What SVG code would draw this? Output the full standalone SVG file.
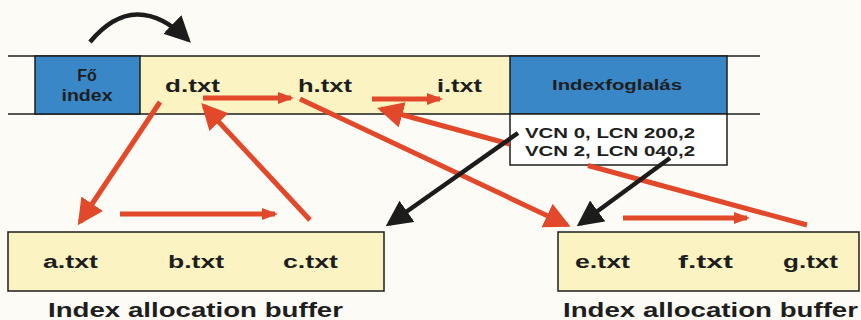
<svg xmlns="http://www.w3.org/2000/svg" width="861" height="320" viewBox="0 0 861 320">
<defs>
<style>
.t{font-family:"Liberation Sans",Arial,sans-serif;font-weight:bold;fill:#1e1e1e;}
.f{font-size:18px;}
.box{stroke:#1e1e1e;stroke-width:1.5;}
.red{stroke:#e2482a;stroke-width:5;fill:none;}
.blk{stroke:#1c1c1c;stroke-width:4.5;fill:none;}
</style>
<marker id="rb" markerUnits="userSpaceOnUse" markerWidth="30" markerHeight="30" refX="22" refY="13" orient="auto"><path d="M0,0 L26,13 L0,26 z" fill="#e2482a"/></marker>
<marker id="rs" markerUnits="userSpaceOnUse" markerWidth="20" markerHeight="16" refX="13" refY="6" orient="auto"><path d="M0,0 L16,6 L0,12 z" fill="#e2482a"/></marker>
<marker id="bb" markerUnits="userSpaceOnUse" markerWidth="30" markerHeight="30" refX="22" refY="13" orient="auto"><path d="M0,0 L26,13 L0,26 z" fill="#1c1c1c"/></marker>
</defs>
<rect width="861" height="320" fill="#fcfbf6"/>

<g id="band">
<rect x="140" y="56" width="370" height="58" fill="#fbf4c2"/>
<line x1="8" y1="56" x2="760" y2="56" class="box"/>
<line x1="8" y1="114" x2="760" y2="114" class="box"/>
</g>

<g id="fo-index">
<rect x="35" y="56" width="105" height="58" fill="#3a87c8" class="box"/>
<text class="t" x="87" y="81" font-size="16" text-anchor="middle">Fő</text>
<text class="t" x="87" y="101" font-size="16" text-anchor="middle" textLength="51" lengthAdjust="spacingAndGlyphs">index</text>
</g>

<g id="d"><text class="t f" x="165" y="92" textLength="55" lengthAdjust="spacingAndGlyphs">d.txt</text></g>
<g id="h"><text class="t f" x="298" y="92" textLength="54" lengthAdjust="spacingAndGlyphs">h.txt</text></g>
<g id="i"><text class="t f" x="437" y="92" textLength="45" lengthAdjust="spacingAndGlyphs">i.txt</text></g>

<g id="indexfoglalas">
<rect x="510" y="56" width="217" height="58" fill="#3a87c8" class="box"/>
<text class="t" x="552" y="90" font-size="14.5" textLength="130" lengthAdjust="spacingAndGlyphs">Indexfoglalás</text>
</g>

<g id="vcn">
<rect x="510" y="114" width="217" height="51" fill="#ffffff" class="box"/>
<text class="t" x="525" y="138" font-size="15" textLength="170" lengthAdjust="spacingAndGlyphs">VCN 0, LCN 200,2</text>
<text class="t" x="525" y="156" font-size="15" textLength="170" lengthAdjust="spacingAndGlyphs">VCN 2, LCN 040,2</text>
</g>

<g id="buffer1">
<rect x="8" y="232" width="376" height="59" fill="#fbf4c2" class="box"/>
<text class="t f" x="43" y="268" textLength="55" lengthAdjust="spacingAndGlyphs">a.txt</text>
<text class="t f" x="168" y="268" textLength="56" lengthAdjust="spacingAndGlyphs">b.txt</text>
<text class="t f" x="283" y="268" textLength="55" lengthAdjust="spacingAndGlyphs">c.txt</text>
<text class="t" x="48" y="317" font-size="21" textLength="295" lengthAdjust="spacingAndGlyphs">Index allocation buffer</text>
</g>

<g id="buffer2">
<rect x="558" y="232" width="301" height="59" fill="#fbf4c2" class="box"/>
<text class="t f" x="575" y="268" textLength="55" lengthAdjust="spacingAndGlyphs">e.txt</text>
<text class="t f" x="678" y="268" textLength="55" lengthAdjust="spacingAndGlyphs">f.txt</text>
<text class="t f" x="783" y="268" textLength="55" lengthAdjust="spacingAndGlyphs">g.txt</text>
<text class="t" x="563" y="317" font-size="21" textLength="295" lengthAdjust="spacingAndGlyphs">Index allocation buffer</text>
</g>

<g id="connectors">
<path class="blk" d="M90,42 Q135,-12 188,40" marker-end="url(#bb)"/>
<line class="red" x1="160" y1="102" x2="80" y2="222" marker-end="url(#rb)"/>
<line class="red" x1="120" y1="214" x2="275" y2="214" marker-end="url(#rs)"/>
<line class="red" x1="310" y1="220" x2="204" y2="106" marker-end="url(#rb)"/>
<line class="red" x1="203" y1="98" x2="291" y2="98" marker-end="url(#rs)"/>
<line class="red" x1="372" y1="99" x2="440" y2="99" marker-end="url(#rs)"/>
<line class="red" x1="300" y1="99" x2="567" y2="225" marker-end="url(#rb)"/>
<line class="red" x1="807" y1="225" x2="588" y2="165.5"/>
<line class="red" x1="509.5" y1="144" x2="381" y2="109" marker-end="url(#rb)"/>
<line class="red" x1="623" y1="218" x2="747" y2="218" marker-end="url(#rs)"/>
<line class="blk" x1="518" y1="133" x2="389" y2="224" marker-end="url(#bb)"/>
<line class="blk" x1="670" y1="158" x2="580" y2="224" marker-end="url(#bb)"/>
</g>
</svg>
